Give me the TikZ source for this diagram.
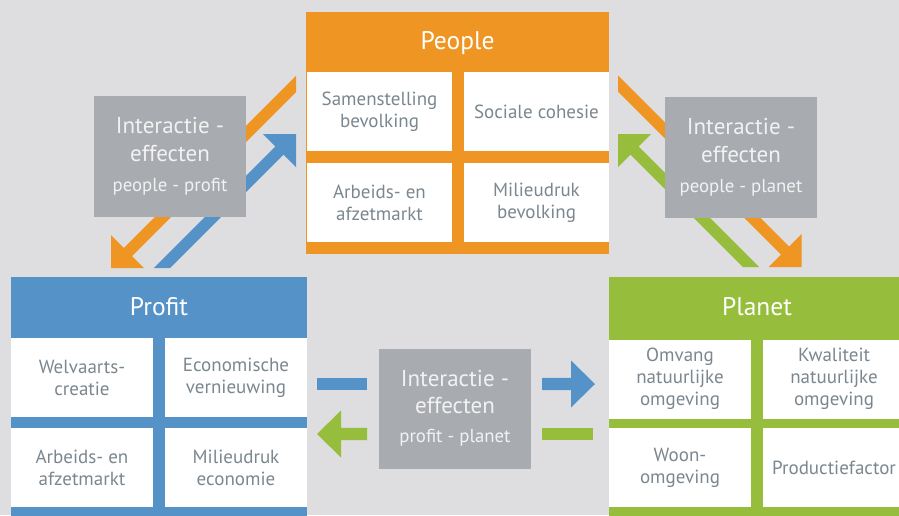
\documentclass[tikz,border=0pt]{standalone}
\usepackage{fontspec}
\setmainfont{PT Sans}
\usetikzlibrary{calc}
\definecolor{bgc}{HTML}{DEDEE0}
\definecolor{orangec}{HTML}{EF9523}
\definecolor{bluec}{HTML}{5592C8}
\definecolor{greenc}{HTML}{96BE3C}
\definecolor{grayc}{HTML}{A8ABAF}
\definecolor{cellt}{HTML}{7B878F}
\definecolor{grayt}{HTML}{F2F2F3}
\tikzset{
  panel/.style={inner sep=0pt, outer sep=0pt, draw=none},
  cell/.style={panel, fill=white, text=cellt, align=center,
    font=\fontsize{19}{22}\selectfont},
  head/.style={inner sep=0pt, text=white, anchor=base, font=\fontsize{25.5}{28}\selectfont},
  ibox/.style={panel, fill=grayc, minimum width=152pt, minimum height=121pt},
  itxtA/.style={inner sep=0pt, text=grayt, anchor=base, font=\fontsize{23}{26}\selectfont},
  itxtB/.style={inner sep=0pt, text=grayt, anchor=base, font=\fontsize{18.8}{22}\selectfont},
}
\begin{document}
\begin{tikzpicture}[x=1pt,y=-1pt]
\useasboundingbox (0,0) rectangle (899,515);
\clip (0,0) rectangle (899,515);
\fill[bgc] (0,0) rectangle (899,515);

% ---------- People ----------
\node[panel, fill=orangec, minimum width=303pt, minimum height=242pt] (people) at (457.5,133) {};
\node[head] (peopleT) at (457.5,49) {People};
\node[cell, minimum width=145pt, minimum height=79pt] (p1) at (379.5,111.5) {Samenstelling\\bevolking};
\node[cell, minimum width=145pt, minimum height=79pt] (p2) at (536.5,111.5) {Sociale cohesie};
\node[cell, minimum width=145pt, minimum height=79pt] (p3) at (379.5,202.5) {Arbeids- en\\afzetmarkt};
\node[cell, minimum width=145pt, minimum height=79pt] (p4) at (536.5,202.5) {Milieudruk\\bevolking};

% ---------- Profit ----------
\node[panel, fill=bluec, minimum width=296pt, minimum height=240pt] (profit) at (159,397) {};
\node[head] (profitT) at (159,315) {Profit};
\node[cell, minimum width=142pt, minimum height=79pt] (f1) at (82,377.5) {Welvaarts-\\creatie};
\node[cell, minimum width=142pt, minimum height=79pt] (f2) at (236,377.5) {Economische\\vernieuwing};
\node[cell, minimum width=142pt, minimum height=79pt] (f3) at (82,467.5) {Arbeids- en\\afzetmarkt};
\node[cell, minimum width=142pt, minimum height=79pt] (f4) at (236,467.5) {Milieudruk\\economie};

% ---------- Planet ----------
\node[panel, fill=greenc, minimum width=296pt, minimum height=240pt] (planet) at (757,397) {};
\node[head] (planetT) at (757,315) {Planet};
\node[cell, minimum width=142pt, minimum height=79pt] (g1) at (680,379) {Omvang\\natuurlijke\\omgeving};
\node[cell, minimum width=142pt, minimum height=79pt] (g2) at (834,379) {Kwaliteit\\natuurlijke\\omgeving};
\node[cell, minimum width=142pt, minimum height=79pt] (g3) at (680,467.5) {Woon-\\omgeving};
\node[cell, minimum width=142pt, minimum height=79pt] (g4) at (834,467.5) {Productiefactor};

% ---------- Arrows people - profit ----------
\fill[orangec] (296,75.9) -- (123.9,247.9) -- (111,235) -- (111,268) -- (144,268)
  -- (132.07,256.07) -- (296,92.1) -- cycle;
\fill[bluec] (153.87,268) -- (275.43,146.43) -- (263,134) -- (296,134) -- (296,167)
  -- (283.57,154.57) -- (170.13,268) -- cycle;

% ---------- Arrows people - planet ----------
\fill[orangec] (618,75.37) -- (789.07,246.43) -- (801.5,234) -- (801.5,267) -- (768.5,267)
  -- (780.93,254.57) -- (618,91.63) -- cycle;
\fill[greenc] (759.13,267) -- (638.57,146.43) -- (651,134) -- (618,134) -- (618,167)
  -- (630.43,154.57) -- (742.87,267) -- cycle;

% ---------- Arrows profit - planet ----------
\fill[bluec] (317,377.8) rectangle (367,390.2);
\fill[bluec] (542,377.8) -- (571,377.8) -- (571,360.5) -- (595,384) -- (571,407.5)
  -- (571,390.2) -- (542,390.2) -- cycle;
\fill[greenc] (367,427.8) -- (341,427.8) -- (341,410.5) -- (317,434) -- (341,457.5)
  -- (341,440.2) -- (367,440.2) -- cycle;
\fill[greenc] (542,427.8) rectangle (593,440.2);

% ---------- Interaction boxes ----------
\node[ibox] (ipp) at (170,156.5) {};
\node[itxtA] (ipp1) at ($(ipp.north)+(0,37)$) {Interactie -};
\node[itxtA] (ipp2) at ($(ipp.north)+(0,65)$) {effecten};
\node[itxtB] (ipp3) at ($(ipp.north)+(0,95)$) {people - profit};

\node[ibox] (ipl) at (741,157.5) {};
\node[itxtA] (ipl1) at ($(ipl.north)+(0,37)$) {Interactie -};
\node[itxtA] (ipl2) at ($(ipl.north)+(0,65)$) {effecten};
\node[itxtB] (ipl3) at ($(ipl.north)+(0,95)$) {people - planet};

\node[ibox, minimum height=120pt] (ifp) at (455,409) {};
\node[itxtA] (ifp1) at ($(ifp.north)+(0,37)$) {Interactie -};
\node[itxtA] (ifp2) at ($(ifp.north)+(0,64)$) {effecten};
\node[itxtB] (ifp3) at ($(ifp.north)+(0,93)$) {profit - planet};
\end{tikzpicture}
\end{document}
